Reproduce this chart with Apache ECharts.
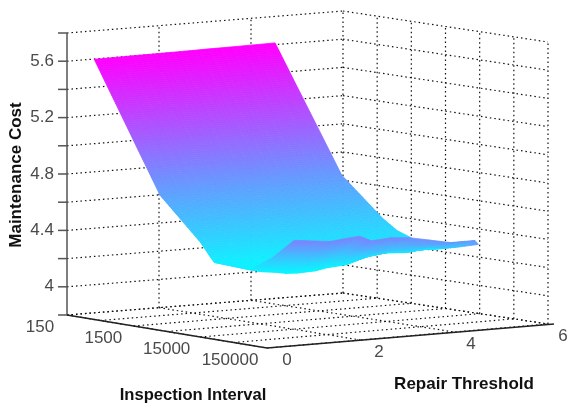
<!DOCTYPE html>
<html><head><meta charset="utf-8">
<style>html,body{margin:0;padding:0;background:#fff}#c{width:568px;height:405px}</style>
<script src="https://cdn.jsdelivr.net/npm/echarts@6/dist/echarts.min.js"></script>
</head><body><div id="c"></div>
<script>
// ---- data ----
var intervalLabels = ['150','1500','15000','150000'];
var repairLabels = ['0','2','4','6'];
var costLabels = ['4','4.4','4.8','5.2','5.6'];
var costLabelValues = [4,4.4,4.8,5.2,5.6];
var costTicks = [3.8,4,4.2,4.4,4.6,4.8,5,5.2,5.4,5.6,5.8];
var intervalGrid = [0,1/6,2/6,3/6,4/6,5/6,1];   // fraction along the interval edge
var repairGrid = [0,1/3,2/3,1];                 // fraction along the repair edge
// surface sample positions (fractions of the floor edges)
var surfaceU = [0.012,0.34,0.54,0.61,0.79,0.9,1.01];
var surfaceV = [0.09,0.133,0.175,0.218,0.26,0.323,0.365,0.435,0.498,0.572,0.646,0.695,0.733,0.745];
// surface cost values, one row per surfaceU
var cost0 = [5.602,5.603,5.604,5.605,5.606,5.607,5.608,5.609,5.611,5.612,5.614,5.615,5.616,5.616];
var cost1 = [4.715,4.72,4.72,4.72,4.725,4.725,4.73,4.73,4.735,4.74,4.74,4.745,4.75,4.75];
var cost2 = [4.43,4.43,4.43,4.43,4.44,4.44,4.45,4.45,4.46,4.47,4.48,4.48,4.49,4.49];
var cost3 = [4.30,4.30,4.30,4.30,4.31,4.31,4.32,4.33,4.35,4.37,4.39,4.40,4.42,4.42];
var cost4 = [4.29,4.27,4.26,4.245,4.24,4.245,4.26,4.27,4.31,4.33,4.32,4.33,4.33,4.325];
var cost5 = [4.40,4.39,4.38,4.37,4.37,4.38,4.37,4.37,4.38,4.38,4.38,4.37,4.37,4.365];
var cost6 = [4.55,4.54,4.53,4.52,4.53,4.54,4.50,4.51,4.50,4.47,4.44,4.44,4.44,4.41];
var surfaceCost = [cost0,cost1,cost2,cost3,cost4,cost5,cost6];
// colour offset per row
var colourOffset = [0,0,0,0,0,0.12,0.34];
var colourMin = 4.2, colourMax = 5.6;

// ---- view projection ----
function proj(u,v,z){
  return [67+200*u+276*v+5*u*v, 315+33*u-22*v-2*u*v-141*(z-3.8)];
}
var zLo = costTicks[0], zHi = costTicks[costTicks.length-1];

// ---- grid lines ----
var gridLines = [];
costTicks.forEach(function(z){
  gridLines.push([proj(0,0,z),proj(0,1,z)]);
  gridLines.push([proj(0,1,z),proj(1,1,z)]);
});
repairGrid.slice(1).forEach(function(v){ gridLines.push([proj(0,v,zLo),proj(0,v,zHi)]); });
intervalGrid.slice(1).forEach(function(u){ gridLines.push([proj(u,1,zLo),proj(u,1,zHi)]); });
repairGrid.forEach(function(v){ gridLines.push([proj(0,v,zLo),proj(1,v,zLo)]); });
intervalGrid.forEach(function(u){ gridLines.push([proj(u,0,zLo),proj(u,1,zLo)]); });

// ---- axis lines ----
var axisLines = [[proj(0,0,zLo),proj(0,0,zHi)]];
costTicks.forEach(function(z){ var p=proj(0,0,z); axisLines.push([[p[0]-9,p[1]],p]); });
var frontLines = [[proj(0,0,zLo),proj(1,0,zLo)],[proj(1,0,zLo),[554,324]]];

// ---- tick labels ----
var labels = [];
costLabels.forEach(function(t,i){ var p=proj(0,0,costLabelValues[i]); labels.push([p[0]-13,p[1],t,'right']); });
intervalLabels.forEach(function(t,i){ var u=i/3,p=proj(u,0,zLo); labels.push([p[0]-27-10*u,p[1]+12,t,'center']); });
repairLabels.forEach(function(t,i){ var v=i/3,p=proj(1,v,zLo); labels.push([p[0]+20-5*v,p[1]+12.5,t,'center']); });

// ---- surface cells ----
var cells = [];
for (var i=0;i<surfaceU.length-1;i++) for (var j=0;j<surfaceV.length-1;j++) cells.push([i,j]);

function colourOf(c){
  var t=Math.max(0,Math.min(1,(c-colourMin)/(colourMax-colourMin)));
  return 'rgb('+Math.round(255*t)+','+Math.round(255*(1-t))+',255)';
}
function renderCell(params,api){
  var i=api.value(0), j=api.value(1);
  function corner(a,b){
    var z=surfaceCost[a][b];
    var p=proj(surfaceU[a],surfaceV[b],z);
    return {p:api.coord(p),c:z+colourOffset[a]};
  }
  var c00=corner(i,j),c01=corner(i,j+1),c10=corner(i+1,j),c11=corner(i+1,j+1);
  var h=Math.abs(c10.p[1]-c00.p[1])+Math.abs(c10.p[0]-c00.p[0]);
  var k=Math.max(2,Math.ceil(h/3));
  var kids=[];
  function mix(a,b,t){return [a[0]+(b[0]-a[0])*t,a[1]+(b[1]-a[1])*t];}
  for(var s=0;s<k;s++){
    var t0=s/k,t1=(s+1)/k,tm=(s+.5)/k;
    var col=colourOf((c00.c+(c01.c-c00.c)*.5)*(1-tm)+(c10.c+(c11.c-c10.c)*.5)*tm);
    kids.push({type:'polygon',silent:true,
      shape:{points:[mix(c00.p,c10.p,t0),mix(c01.p,c11.p,t0),mix(c01.p,c11.p,t1),mix(c00.p,c10.p,t1)]},
      style:{fill:col,stroke:col,lineWidth:0.8}});
  }
  return {type:'group',children:kids};
}
function lineRenderer(style){
  return function(params,api){
    var d=params.dataIndex, src=style.source[d];
    return {type:'polyline',silent:true,shape:{points:[api.coord(src[0]),api.coord(src[1])]},style:style.line};
  };
}
function lineSeries(src,lineStyle,z){
  return {type:'custom',coordinateSystem:'cartesian2d',clip:false,silent:true,z:z,
    data:src.map(function(s){return [s[0][0],s[0][1],s[1][0],s[1][1]];}),
    encode:{x:0,y:1},
    renderItem:lineRenderer({source:src,line:lineStyle})};
}

var chart = echarts.init(document.getElementById('c'),null,{renderer:'canvas'});
chart.setOption({
  animation:false,
  backgroundColor:'#fff',
  grid:{left:0,right:0,top:0,bottom:0},
  xAxis:{type:'value',min:0,max:568,show:false},
  yAxis:{type:'value',min:0,max:405,inverse:true,show:false},
  series:[
    lineSeries(gridLines,{stroke:'#111',fill:null,lineWidth:1.2,lineDash:[1.5,3]},1),
    lineSeries(axisLines,{stroke:'#555',fill:null,lineWidth:1.5},2),
    lineSeries(frontLines,{stroke:'#222',fill:null,lineWidth:1.5},2),
    {type:'custom',coordinateSystem:'cartesian2d',clip:false,silent:true,z:3,
      data:cells,encode:{x:0,y:1},renderItem:renderCell},
    {type:'custom',coordinateSystem:'cartesian2d',clip:false,silent:true,z:4,
      data:labels.map(function(l){return [l[0],l[1]];}),encode:{x:0,y:1},
      renderItem:function(params,api){
        var d=labels[params.dataIndex],p=api.coord([d[0],d[1]]);
        return {type:'text',silent:true,x:p[0],y:p[1],style:{text:d[2],fill:'#4a4a4a',
          font:'17px "Liberation Sans",Arial,sans-serif',align:d[3],verticalAlign:'middle'}};
      }}
  ],
  graphic:[
    {type:'text',silent:true,x:16,y:175,rotation:Math.PI/2,style:{text:'Maintenance Cost',fill:'#111',
      font:'bold 17px "Liberation Sans",Arial,sans-serif',align:'center',verticalAlign:'middle'}},
    {type:'text',silent:true,x:193,y:395,style:{text:'Inspection Interval',fill:'#111',
      font:'bold 16.6px "Liberation Sans",Arial,sans-serif',align:'center',verticalAlign:'middle'}},
    {type:'text',silent:true,x:464,y:384,style:{text:'Repair Threshold',fill:'#111',
      font:'bold 17px "Liberation Sans",Arial,sans-serif',align:'center',verticalAlign:'middle'}}
  ]
});
</script></body></html>
